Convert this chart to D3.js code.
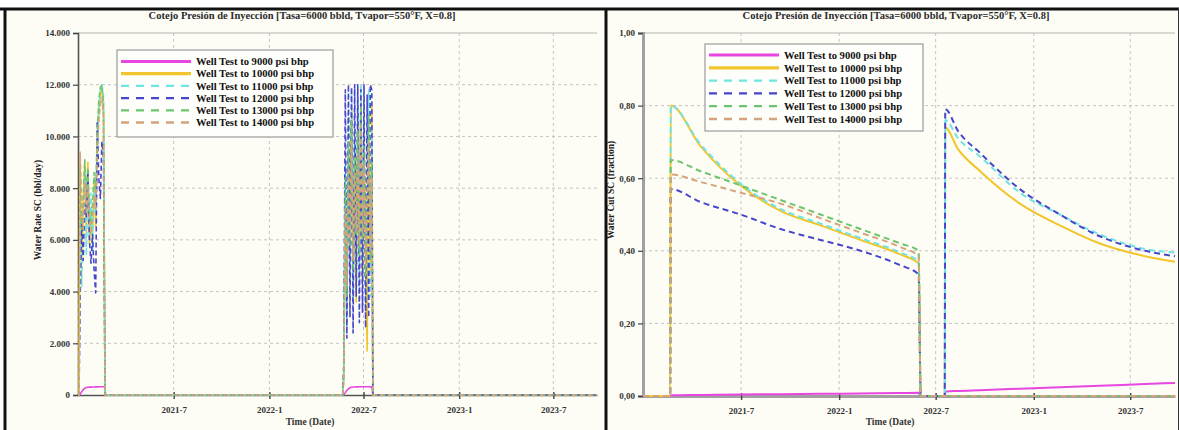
<!DOCTYPE html>
<html>
<head>
<meta charset="utf-8">
<script src="https://cdn.jsdelivr.net/npm/d3@7"></script>
<style>
  body { margin: 0; background: #ffffff; }
  svg { display: block; }
  text { font-family: "Liberation Serif", "Times New Roman", serif; font-weight: bold; }
</style>
</head>
<body>
<svg id="chart" width="1179" height="430"></svg>
<script>
// ---- Series names and tick labels ----
const seriesNames = [
  "Well Test to 9000 psi bhp",
  "Well Test to 10000 psi bhp",
  "Well Test to 11000 psi bhp",
  "Well Test to 12000 psi bhp",
  "Well Test to 13000 psi bhp",
  "Well Test to 14000 psi bhp"
];
const chartTitle = "Cotejo Presión de Inyección [Tasa=6000 bbld, Tvapor=550°F, X=0.8]";
const xAxisTitle = "Time (Date)";
const rateAxisTitle = "Water Rate SC (bbl/day)";
const cutAxisTitle = "Water Cut SC (fraction)";

const timeRange = ["2020-12-29", "2023-09-23"];
const xTickDates = ["2021-07-01", "2022-01-01", "2022-07-01", "2023-01-01", "2023-07-01"];
const xTickLabels = ["2021-7", "2022-1", "2022-7", "2023-1", "2023-7"];
const rateTicks = [0, 2000, 4000, 6000, 8000, 10000, 12000, 14000];
const cutTicks = [0, 0.2, 0.4, 0.6, 0.8, 1.0];

// ---- Water rate (bbl/day) ----
const rateDates = [
  "2020-12-29",
  "2020-12-31", "2021-01-02", "2021-01-05", "2021-01-08", "2021-01-11", "2021-01-14",
  "2021-01-17", "2021-01-20", "2021-01-23", "2021-01-26", "2021-01-29", "2021-02-01",
  "2021-02-04", "2021-02-07", "2021-02-10", "2021-02-13", "2021-02-16", "2021-02-19", "2021-02-20",
  "2022-05-22", "2022-05-24", "2022-05-27", "2022-05-30", "2022-06-02", "2022-06-05",
  "2022-06-08", "2022-06-11", "2022-06-14", "2022-06-17", "2022-06-20", "2022-06-23",
  "2022-06-26", "2022-06-29", "2022-07-02", "2022-07-05", "2022-07-08", "2022-07-11",
  "2022-07-14", "2022-07-17", "2022-07-19",
  "2023-09-23"
];
const rate9000 = [0,
  0, 30, 120, 210, 260, 290, 300, 305, 305, 310, 310, 315, 315, 320, 320, 320, 320, 320, 0,
  0, 20, 90, 180, 240, 280, 300, 310, 310, 315, 315, 320, 320, 320, 320, 320, 320, 320, 320, 320, 0,
  0];
const rate10000 = [0,
  0, 9300, 5200, 7600, 8900, 6100, 9000, 5800, 7200, 6000, 8400, 6500, 9600, 10800, 11600, 11900, 11000, 0, 0,
  0, 600, 7800, 3200, 9400, 5200, 11000, 4200, 8800, 3600, 10400, 5600, 11600, 4400, 9200, 6000, 1700, 9800, 4800, 11200, 0,
  0];
const rate11000 = [0,
  0, 7200, 4200, 6800, 8600, 5400, 8200, 6200, 7800, 5600, 7900, 7000, 9900, 11200, 11800, 12000, 11600, 0, 0,
  0, 900, 9000, 2600, 10800, 4400, 11800, 3600, 9800, 5000, 11400, 4200, 12000, 5200, 10600, 3400, 8400, 11800, 3800, 10200, 0,
  0];
const rate12000 = [0,
  0, 3600, 6800, 5200, 7400, 6900, 8700, 6000, 5100, 6200, 4800, 3950, 10600, 8400, 7600, 9800, 9200, 0, 0,
  0, 1200, 11800, 2200, 12000, 3000, 11900, 2400, 12000, 3800, 12000, 2800, 11800, 3200, 12000, 2600, 11600, 3000, 12000, 11800, 0,
  0];
const rate13000 = [0,
  0, 8800, 6400, 7400, 9100, 7600, 8800, 7000, 6600, 7400, 8600, 7800, 10200, 11400, 11900, 12000, 11300, 0, 0,
  0, 700, 8400, 3800, 9800, 5800, 10600, 4800, 9200, 6200, 10200, 5400, 11200, 6000, 9600, 4600, 7800, 10800, 5200, 9000, 0,
  0];
const rate14000 = [0,
  0, 9400, 7600, 6400, 8200, 7000, 8100, 6800, 6200, 6900, 7700, 7200, 9200, 10600, 11200, 11500, 10800, 0, 0,
  0, 500, 7200, 4200, 8800, 6000, 9800, 5200, 8600, 6400, 9400, 5800, 10400, 6200, 9000, 5000, 7400, 9800, 5600, 8400, 0,
  0];

// ---- Water cut (fraction) ----
const cutDates = [
  "2020-12-29", "2021-02-18", "2021-02-19", "2021-04-15", "2021-06-30", "2021-09-13",
  "2021-11-27", "2022-02-10", "2022-04-26", "2022-05-30", "2022-06-03", "2022-07-18",
  "2022-07-19", "2022-08-12", "2022-09-22", "2022-12-06", "2023-02-19", "2023-05-05",
  "2023-07-29", "2023-09-23"
];
const cut9000  = [0, 0, 0.002, 0.003, 0.004, 0.005, 0.006, 0.007, 0.008, 0.009, 0, 0, 0.012, 0.014, 0.016, 0.020, 0.024, 0.028, 0.033, 0.036];
const cut10000 = [0, 0, 0.80, 0.69, 0.58, 0.51, 0.47, 0.43, 0.39, 0.365, 0, 0, 0.74, 0.68, 0.62, 0.53, 0.47, 0.42, 0.385, 0.37];
const cut11000 = [0, 0, 0.80, 0.695, 0.585, 0.515, 0.475, 0.435, 0.395, 0.37, 0, 0, 0.76, 0.71, 0.66, 0.56, 0.50, 0.445, 0.405, 0.395];
const cut12000 = [0, 0, 0.57, 0.535, 0.50, 0.46, 0.43, 0.40, 0.36, 0.335, 0, 0, 0.79, 0.73, 0.67, 0.57, 0.50, 0.44, 0.40, 0.385];
const cut13000 = [0, 0, 0.65, 0.62, 0.58, 0.54, 0.50, 0.46, 0.42, 0.40, 0, 0, 0, 0, 0, 0, 0, 0, 0, 0];
const cut14000 = [0, 0, 0.61, 0.59, 0.56, 0.53, 0.49, 0.45, 0.41, 0.385, 0, 0, 0, 0, 0, 0, 0, 0, 0, 0];

// ---- Styling ----
const seriesColors = ["#e846e0", "#f2c52c", "#6fe4e4", "#4646cc", "#6cc46c", "#d4a47c"];
const seriesDashed = [false, false, true, true, true, true];

const parse = d3.utcParse("%Y-%m-%d");
const esLocale = d3.formatLocale({ decimal: ",", thousands: ".", grouping: [3], currency: ["", ""] });

const svg = d3.select("#chart");

// Page frame: cells of the surrounding table
svg.append("rect").attr("x", 6).attr("y", 10).attr("width", 599).attr("height", 420).attr("fill", "#fdfdf6");
svg.append("rect").attr("x", 607).attr("y", 10).attr("width", 571).attr("height", 420).attr("fill", "#fdfdf6");
svg.append("line").attr("x1", 0).attr("x2", 1179).attr("y1", 9).attr("y2", 9).attr("stroke", "#111").attr("stroke-width", 3);
svg.append("line").attr("x1", 5).attr("x2", 5).attr("y1", 8).attr("y2", 430).attr("stroke", "#111").attr("stroke-width", 3);
svg.append("line").attr("x1", 606).attr("x2", 606).attr("y1", 8).attr("y2", 430).attr("stroke", "#111").attr("stroke-width", 3);
svg.append("line").attr("x1", 1178.5).attr("x2", 1178.5).attr("y1", 8).attr("y2", 430).attr("stroke", "#333").attr("stroke-width", 1);

function drawPanel(cfg) {
  const g = svg.append("g");
  const x = d3.scaleUtc().domain(timeRange.map(parse)).range([cfg.left, cfg.right]);
  const y = d3.scaleLinear().domain([cfg.ticks[0], cfg.ticks[cfg.ticks.length - 1]]).range([cfg.bottom, cfg.top]);

  // Title
  g.append("text").attr("x", cfg.titleX).attr("y", 19).attr("text-anchor", "middle")
    .attr("font-size", 10.5).attr("fill", "#2a2a2a").text(chartTitle);

  // Grid
  const tickX = xTickDates.map(parse);
  g.selectAll(".vgrid").data(tickX).join("line")
    .attr("x1", d => x(d)).attr("x2", d => x(d)).attr("y1", cfg.top).attr("y2", cfg.bottom)
    .attr("stroke", "#c4c4c4").attr("stroke-width", 1).attr("stroke-dasharray", "3,3");
  g.selectAll(".hgrid").data(cfg.ticks.slice(1, -1)).join("line")
    .attr("x1", cfg.left).attr("x2", cfg.right).attr("y1", d => y(d)).attr("y2", d => y(d))
    .attr("stroke", "#c4c4c4").attr("stroke-width", 1).attr("stroke-dasharray", "3,3");
  g.append("line").attr("x1", cfg.left).attr("x2", cfg.right).attr("y1", cfg.top).attr("y2", cfg.top)
    .attr("stroke", "#b4b4b4").attr("stroke-width", 1.2);

  // Y axis
  const yAxis = d3.axisLeft(y).tickValues(cfg.ticks).tickFormat(cfg.format).tickSize(5).tickPadding(3);
  const ya = g.append("g").attr("transform", `translate(${cfg.left},0)`).call(yAxis);
  ya.select(".domain").attr("stroke", cfg.axisColor).attr("stroke-width", cfg.axisWidth);
  ya.selectAll(".tick line").attr("stroke", "#444").attr("stroke-width", 1.2);
  ya.selectAll(".tick text").attr("font-size", 9).attr("fill", "#333")
    .attr("font-family", "'Liberation Serif', serif").attr("font-weight", "bold");

  // X axis
  const xAxis = d3.axisBottom(x).tickValues(tickX).tickFormat((d, i) => xTickLabels[i]).tickSize(4).tickSizeOuter(0).tickPadding(8);
  const xa = g.append("g").attr("transform", `translate(0,${cfg.bottom})`).call(xAxis);
  xa.select(".domain").attr("stroke", cfg.axisColor).attr("stroke-width", cfg.axisWidth);
  xa.selectAll(".tick line").attr("stroke", "#444").attr("stroke-width", 1.4).attr("y1", -3);
  xa.selectAll(".tick text").attr("font-size", 9).attr("fill", "#333")
    .attr("font-family", "'Liberation Serif', serif").attr("font-weight", "bold");

  // Axis titles
  g.append("text").attr("x", cfg.xTitleX).attr("y", 425).attr("text-anchor", "middle")
    .attr("font-size", 9.5).attr("fill", "#333").text(xAxisTitle);
  g.append("text").attr("transform", `translate(${cfg.yTitleX},${cfg.yTitleY}) rotate(-90)`)
    .attr("text-anchor", "middle").attr("font-size", 9.5).attr("fill", "#222").text(cfg.yTitle);

  // Series
  const dates = cfg.dates.map(parse);
  const line = d3.line().x(d => x(d[0])).y(d => y(d[1])).curve(cfg.curve);
  cfg.values.forEach((vals, i) => {
    const pts = dates.map((d, j) => [d, vals[j]]);
    g.append("path").datum(pts).attr("d", line).attr("fill", "none")
      .attr("stroke", seriesColors[i]).attr("stroke-width", cfg.lineWidth)
      .attr("stroke-linejoin", "round")
      .attr("stroke-dasharray", seriesDashed[i] ? cfg.dash : null);
  });

  // Legend
  const L = cfg.legend;
  g.append("rect").attr("x", L.x).attr("y", L.y).attr("width", L.w).attr("height", L.h)
    .attr("fill", "#fefefb").attr("stroke", "#9a9a9a").attr("stroke-width", 1.2);
  seriesNames.forEach((name, i) => {
    const ry = L.y + L.first + i * L.step;
    g.append("line").attr("x1", L.x + 4).attr("x2", L.x + 74).attr("y1", ry).attr("y2", ry)
      .attr("stroke", seriesColors[i]).attr("stroke-width", seriesDashed[i] ? 2.3 : 3.2)
      .attr("stroke-dasharray", seriesDashed[i] ? "8,7" : null);
    g.append("text").attr("x", L.x + 79).attr("y", ry).attr("dy", "0.35em")
      .attr("font-size", 10.6).attr("fill", "#111").text(name);
  });
}

drawPanel({
  left: 78, right: 597, top: 33, bottom: 395,
  ticks: rateTicks, format: esLocale.format(",d"),
  dates: rateDates, values: [rate9000, rate10000, rate11000, rate12000, rate13000, rate14000],
  curve: d3.curveLinear, lineWidth: 1.6, dash: "5,3",
  axisColor: "#555", axisWidth: 1.6,
  titleX: 302, xTitleX: 310, yTitle: rateAxisTitle, yTitleX: 41, yTitleY: 210,
  legend: { x: 117, y: 50, w: 216, h: 87, first: 11.5, step: 12.2 }
});

drawPanel({
  left: 643, right: 1175, top: 33, bottom: 396,
  ticks: cutTicks, format: esLocale.format(",.2f"),
  dates: cutDates, values: [cut9000, cut10000, cut11000, cut12000, cut13000, cut14000],
  curve: d3.curveMonotoneX, lineWidth: 2, dash: "6,4",
  axisColor: "#a0a0a0", axisWidth: 3,
  titleX: 896, xTitleX: 890, yTitle: cutAxisTitle, yTitleX: 614, yTitleY: 190,
  legend: { x: 705, y: 44, w: 218, h: 87, first: 11, step: 12.8 }
});
</script>
</body>
</html>
